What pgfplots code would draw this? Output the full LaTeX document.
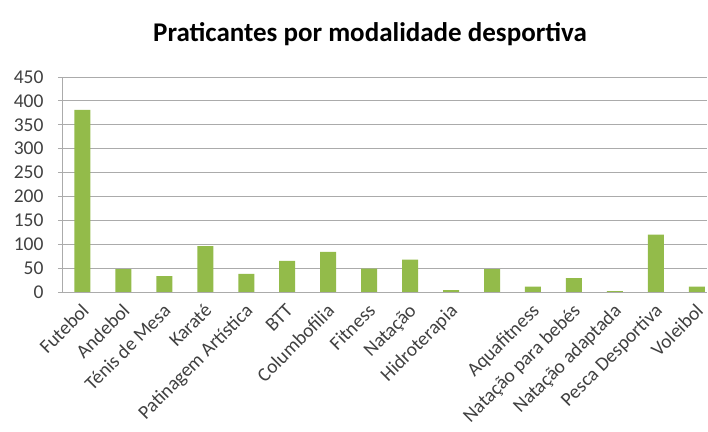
\documentclass[border=0pt]{standalone}
\usepackage{fontspec}
\setmainfont{Carlito}
\usepackage{pgfplots}
\pgfplotsset{compat=1.18}
\definecolor{bargreen}{HTML}{93BB4A}
\definecolor{gridgray}{HTML}{ABABAB}
\begin{document}
\begin{tikzpicture}
\begin{axis}[
  name=ax,
  scale only axis,
  width=645pt, height=215pt,
  ymin=0, ymax=450,
  ytick={0,50,...,450},
  xmin=-0.5, xmax=15.25,
  xtick={0,...,15},
  xticklabels={Futebol,Andebol,Ténis de Mesa,Karaté,Patinagem Artística,BTT,Columbofilia,Fitness,Natação,Hidroterapia,{},Aquafitness,Natação para bebés,Natação adaptada,Pesca Desportiva,Voleibol},
  xticklabel style={rotate=45, anchor=north east, font=\fontsize{19.5}{19.5}\selectfont, text=black!75, inner sep=1pt, yshift=-2pt, xshift=-5pt},
  yticklabel style={font=\fontsize{19.5}{19.5}\selectfont, text=black!75, xshift=-11pt},
  /pgf/number format/assume math mode=true,
  ymajorgrids,
  major grid style={gridgray, line width=0.8pt},
  axis line style={gridgray, line width=0.8pt},
  axis x line*=bottom,
  axis y line*=left,
  x axis line style={-},
  y axis line style={-},
  ytick style={gridgray, line width=0.8pt},
  xtick style={draw=none},
  tick align=outside,
  major tick length=4pt,
  ybar, bar width=16pt,
  clip=false,
]
\addplot[fill=bargreen, draw=none] coordinates {
 (0,381) (1,48) (2,33) (3,96) (4,38) (5,65) (6,84) (7,49) (8,68) (9,4) (10,48) (11,11) (12,29) (13,2) (14,120) (15,11)
};
\end{axis}
\node[font=\bfseries\fontsize{27}{27}\selectfont, anchor=base] at ([xshift=-62pt+370pt, yshift=77pt-42pt]ax.north west) {Praticantes por modalidade desportiva};
\path ([xshift=-62pt, yshift=-140pt]ax.south west) coordinate (a);
\path ([xshift=1pt, yshift=77pt]ax.north east) coordinate (b);
\pgfresetboundingbox
\useasboundingbox (a) rectangle (b);
\end{tikzpicture}
\end{document}
